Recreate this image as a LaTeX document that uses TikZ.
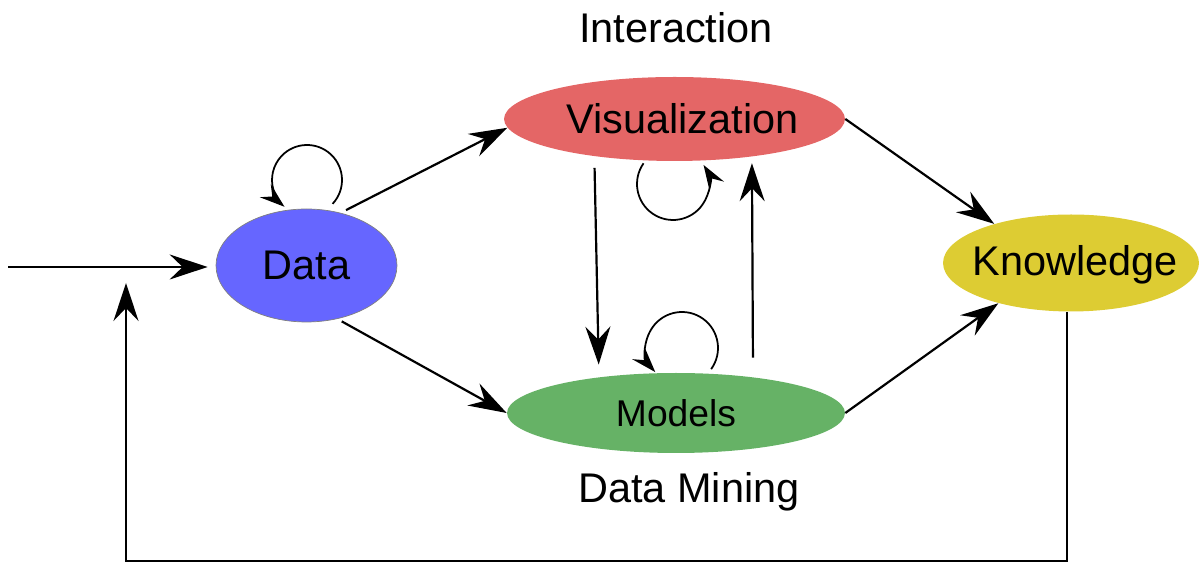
\documentclass[tikz,border=0pt]{standalone}
\usepackage{fontspec}
\setmainfont{Liberation Sans}
\usetikzlibrary{arrows.meta,calc,shapes.geometric}
\definecolor{datablue}{RGB}{102,102,255}
\definecolor{visred}{RGB}{228,102,102}
\definecolor{knowyellow}{RGB}{221,204,51}
\definecolor{modgreen}{RGB}{102,178,102}
\tikzset{
  blob/.style={ellipse, inner sep=0pt},
  lbl/.style={font=\fontsize{23.6}{27}\selectfont},
  flow/.style={line width=1.25pt, -{Stealth[length=0.76cm,width=0.5cm,inset=0.26cm]}},
  selfloop/.style={line width=1pt, -{Stealth[length=0.5cm,width=0.34cm,inset=0.18cm]}}
}
\begin{document}
\begin{tikzpicture}[x=0.02cm,y=0.02cm]
\useasboundingbox (0,0) rectangle (1203,563);
\node[blob, fill=datablue, draw=gray, line width=0.4pt, minimum width=3.62cm, minimum height=2.26cm,
  label={[lbl]center:Data}] (data) at (306.5,297.5) {};
\node[blob, fill=visred, minimum width=6.82cm, minimum height=1.68cm,
  label={[lbl, xshift=0.16cm]center:Visualization}] (vis) at (674.5,444) {};
\node[blob, fill=knowyellow, minimum width=5.12cm, minimum height=1.94cm,
  label={[lbl, xshift=0.08cm, yshift=-0.04cm]center:Knowledge}] (know) at (1071,300) {};
\node[blob, fill=modgreen, minimum width=6.76cm, minimum height=1.6cm,
  label={[font=\fontsize{21.2}{24}\selectfont]center:Models}] (mod) at (676,150) {};
\node[lbl] (inter) at (676,535) {Interaction};
\node[lbl] (dm) at (689,71) {Data Mining};

\coordinate (inp) at (8,296);
\coordinate (fb) at (126,2);
\coordinate (fbtip) at (126,280);

\draw[flow, shorten >=0.16cm] (inp) -- (inp -| data.west);
\draw[flow, shorten <=0.12cm] (data.57) -- (vis.183);
\draw[flow, shorten <=0.1cm] (data.-60) -- (mod.180);
\draw[flow] (vis.0) -- (know.153);
\draw[flow] (mod.0) -- (know.209);
\draw[flow, shorten <=0.23cm, shorten >=0.25cm] (vis.205.8) -- (mod.155.9);
\draw[flow, shorten <=0.39cm, shorten >=0.13cm] (mod.25.2) -- (vis.-26.5);
\draw[flow] ([xshift=-0.08cm]know.south) |- (fb) -- (fbtip);

\coordinate (dlc) at ($(data.center)+(0.5,85.5)$);
\coordinate (vlc) at ($(vis.center)+(-1.5,-65)$);
\coordinate (mlc) at ($(mod.center)+(6,65)$);
\draw[selfloop] ([shift={(-43:0.7cm)}]dlc) arc[start angle=-43, end angle=230, radius=0.7cm];
\draw[selfloop] ([shift={(145:0.72cm)}]vlc) arc[start angle=145, end angle=392, radius=0.72cm];
\draw[selfloop] ([shift={(-36:0.72cm)}]mlc) arc[start angle=-36, end angle=222, radius=0.72cm];
\end{tikzpicture}
\end{document}
